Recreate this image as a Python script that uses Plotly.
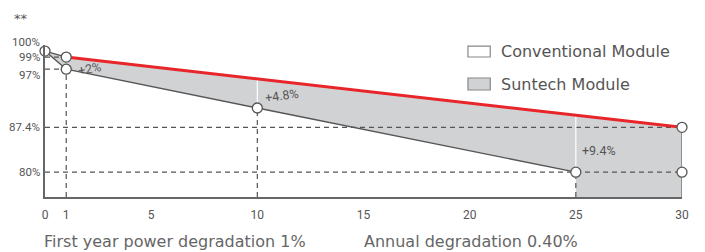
import plotly.graph_objects as go

# ---- data ----
suntech_years = [0, 1, 10, 25, 30]
suntech_values = [100, 99, 95.4, 89.4, 87.4]
conv_years = [0, 1, 10, 25]
conv_values = [100, 97, 90.6, 80]
x_ticks = [0, 1, 5, 10, 15, 20, 25, 30]
y_ticks = [100, 99, 97, 87.4, 80]
y_tick_labels = ["100%", "99%", "97%", "87.4%", "80%"]
gap_labels = ["+2%", "+4.8%", "+9.4%"]
legend_names = ["Conventional Module", "Suntech Module"]
notes = ["First year power degradation 1%", "Annual degradation 0.40%"]

YMIN, YMAX = 75.9, 101.0
GRAY_FILL = "#d1d2d4"
DARK = "#555555"
RED = "#e8262a"
COND = "Roboto, Liberation Sans, sans-serif"
ROUND = "DejaVu Sans, Noto Sans, sans-serif"

fig = go.Figure()

# gray gain region
last_x = suntech_years[-1]
fill_x = [suntech_years[0], suntech_years[1], last_x, last_x, conv_years[-1]] + conv_years[::-1]
fill_y = [suntech_values[0], suntech_values[1], suntech_values[-1], YMIN, YMIN] + conv_values[::-1]
fig.add_trace(go.Scatter(x=fill_x, y=fill_y, fill="toself", fillcolor=GRAY_FILL,
                         mode="none", hoverinfo="skip", showlegend=False))

dash = "5px,4px"
def seg(xs, ys, color=DARK, width=1.2, d=dash):
    fig.add_trace(go.Scatter(x=xs, y=ys, mode="lines", line=dict(color=color, width=width, dash=d),
                             hoverinfo="skip", showlegend=False, cliponaxis=False))

# dashed horizontal guides
seg([0, suntech_years[1]], [suntech_values[1]] * 2)
seg([0, conv_years[1]], [conv_values[1]] * 2)
seg([0, last_x], [suntech_values[-1]] * 2)
seg([0, last_x], [conv_values[-1]] * 2)
# dashed verticals
seg([conv_years[1]] * 2, [YMIN, conv_values[1]])
seg([conv_years[2]] * 2, [YMIN, conv_values[2]])
seg([conv_years[3]] * 2, [YMIN, conv_values[3]])
# white separators inside the gray region
seg([conv_years[2]] * 2, [conv_values[2], suntech_values[2]], color="white", width=1.2, d="solid")
seg([conv_years[3]] * 2, [conv_values[3], suntech_values[3]], color="white", width=1.2, d="solid")
# right edge
seg([last_x] * 2, [YMIN, suntech_values[-1]], color="#777777", width=1.5, d="solid")

# conventional line
seg(conv_years, conv_values, color=DARK, width=1.4, d="solid")
# suntech first-year segment
seg(suntech_years[:2], suntech_values[:2], color=DARK, width=1.4, d="solid")
# suntech red line
seg(suntech_years[1:], suntech_values[1:], color=RED, width=3, d="solid")

# markers
mx = [0, 1, 1, conv_years[2], conv_years[3], last_x, last_x]
my = [100, suntech_values[1], conv_values[1], conv_values[2], conv_values[3], suntech_values[-1], conv_values[3]]
fig.add_trace(go.Scatter(x=mx, y=my, mode="markers", cliponaxis=False, hoverinfo="skip", showlegend=False,
                         marker=dict(size=10, color="white", line=dict(color=DARK, width=1.3))))

# y tick labels (annotations to avoid overlap at the compressed top)
yshifts = [9, 0, -6, 0, 0]
for v, t, s in zip(y_ticks, y_tick_labels, yshifts):
    fig.add_annotation(x=0, xref="paper", y=v, yref="y", text=t, showarrow=False, xanchor="right",
                       yanchor="middle", xshift=-3, yshift=s, font=dict(family=COND, size=11.5, color=DARK))

# gap labels
fig.add_annotation(x=1.4, y=97.1, text=gap_labels[0], showarrow=False, xanchor="left", textangle=-10,
                   font=dict(family=COND, size=12.5, color=DARK))
fig.add_annotation(x=10.2, y=92.6, text=gap_labels[1], showarrow=False, xanchor="left", textangle=-8,
                   font=dict(family=COND, size=12.5, color=DARK))
fig.add_annotation(x=25.2, y=83.6, text=gap_labels[2], showarrow=False, xanchor="left",
                   font=dict(family=COND, size=12.5, color=DARK))

# legend
fig.add_shape(type="rect", xref="paper", yref="paper", x0=0.664, x1=0.699, y0=0.921, y1=0.993,
              fillcolor="white", line=dict(color="#888888", width=1.2))
fig.add_shape(type="rect", xref="paper", yref="paper", x0=0.664, x1=0.699, y0=0.704, y1=0.783,
              fillcolor=GRAY_FILL, line=dict(color="#888888", width=1.2))
fig.add_annotation(x=0.713, y=0.957, xref="paper", yref="paper", text=legend_names[0], showarrow=False,
                   xanchor="left", yanchor="middle", font=dict(family=ROUND, size=16, color="#555555"))
fig.add_annotation(x=0.713, y=0.743, xref="paper", yref="paper", text=legend_names[1], showarrow=False,
                   xanchor="left", yanchor="middle", font=dict(family=ROUND, size=16, color="#555555"))

# notes
fig.add_annotation(x=-0.004, y=-0.29, xref="paper", yref="paper", text=notes[0], showarrow=False,
                   xanchor="left", yanchor="middle", font=dict(family=ROUND, size=16, color="#666666"))
fig.add_annotation(x=0.497, y=-0.29, xref="paper", yref="paper", text=notes[1], showarrow=False,
                   xanchor="left", yanchor="middle", font=dict(family=ROUND, size=16, color="#666666"))
fig.add_annotation(x=-0.038, y=1.237, xref="paper", yref="paper", text="**", showarrow=False,
                   xanchor="center", yanchor="top", font=dict(family=ROUND, size=13, color="#555555"))

fig.update_xaxes(range=[0, 30], tickvals=x_ticks, showgrid=False, zeroline=False, showline=True,
                 linecolor="#666666", linewidth=1.5, ticks="", ticklabelstandoff=6,
                 tickfont=dict(family=COND, size=12, color=DARK))
fig.update_yaxes(range=[YMIN, YMAX], showgrid=False, zeroline=False, showline=True,
                 linecolor="#666666", linewidth=1.5, showticklabels=False, ticks="")
# page body has an 8px default margin, so the figure is sized/offset to compensate
fig.update_layout(width=697, height=244, margin=dict(l=37, r=23, t=37, b=55),
                  plot_bgcolor="white", paper_bgcolor="white", showlegend=False)

fig.write_html("out.html")
